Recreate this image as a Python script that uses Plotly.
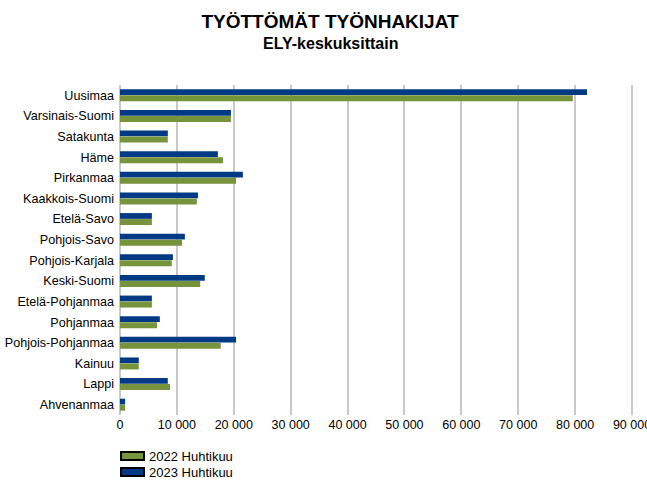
import plotly.graph_objects as go

regions = ['Uusimaa', 'Varsinais-Suomi', 'Satakunta', 'Häme', 'Pirkanmaa',
           'Kaakkois-Suomi', 'Etelä-Savo', 'Pohjois-Savo', 'Pohjois-Karjala',
           'Keski-Suomi', 'Etelä-Pohjanmaa', 'Pohjanmaa', 'Pohjois-Pohjanmaa',
           'Kainuu', 'Lappi', 'Ahvenanmaa']
values_2022 = [79600, 19500, 8400, 18100, 20400, 13500, 5600, 10900, 9100,
               14100, 5600, 6500, 17700, 3300, 8800, 900]
values_2023 = [82100, 19500, 8400, 17200, 21600, 13700, 5600, 11400, 9300,
               14900, 5600, 7000, 20400, 3300, 8400, 900]
tick_vals = [0, 10000, 20000, 30000, 40000, 50000, 60000, 70000, 80000, 90000]
tick_text = ['0', '10 000', '20 000', '30 000', '40 000', '50 000',
             '60 000', '70 000', '80 000', '90 000']

GREEN = '#77933c'
BLUE = '#003a84'
FONT = 'Liberation Sans, Arial, sans-serif'

fig = go.Figure()

# 2023 above, 2022 below within each region
fig.add_trace(go.Bar(
    y=regions, x=values_2023, orientation='h', name='2023 Huhtikuu',
    marker=dict(color=BLUE, line=dict(width=0)),
    offset=-0.29, width=0.28, showlegend=False
))
fig.add_trace(go.Bar(
    y=regions, x=values_2022, orientation='h', name='2022 Huhtikuu',
    marker=dict(color=GREEN, line=dict(width=0)),
    offset=0.0, width=0.29, showlegend=False
))

# plot area 120..634 px wide; range a bit past 90 000 so the last gridline sits at ~632 px
fig.update_layout(
    width=647, height=480,
    margin=dict(l=120, r=13, t=85, b=65),
    paper_bgcolor='white', plot_bgcolor='white',
    barmode='overlay',
    font=dict(family=FONT, size=12, color='#000000'),
    title=dict(text='<b>TYÖTTÖMÄT TYÖNHAKIJAT</b>', x=330 / 647, xref='container',
               xanchor='center', y=1 - 21 / 480, yref='container', yanchor='middle',
               font=dict(family=FONT, size=19, color='#000000')),
    xaxis=dict(range=[0, 90350], tickvals=tick_vals, ticktext=tick_text,
               showgrid=True, gridcolor='#c8c8c8', gridwidth=1.5,
               zeroline=True, zerolinecolor='#c8c8c8', zerolinewidth=1.5,
               showline=False, ticks='', tickfont=dict(size=12.5),
               automargin=False, ticklabeloverflow='allow'),
    yaxis=dict(autorange='reversed', showgrid=False, showline=False,
               ticks='', ticklabelstandoff=5, tickfont=dict(size=12.6),
               automargin=False),
)

W = 647 - 120 - 13

# subtitle
fig.add_annotation(text='<b>ELY-keskuksittain</b>', xref='paper', yref='paper',
                   x=(330 - 120) / W, y=(415 - 44) / 330, xanchor='center',
                   yanchor='middle', showarrow=False,
                   font=dict(family=FONT, size=16, color='#000000'))

# legend drawn by hand: wide swatches with black border
for i, (label, color) in enumerate([('2022 Huhtikuu', GREEN), ('2023 Huhtikuu', BLUE)]):
    top = 452 + i * 16
    fig.add_shape(type='rect', xref='paper', yref='paper',
                  x0=(121 - 120) / W, x1=(144 - 120) / W,
                  y0=(415 - top) / 330, y1=(415 - top - 8) / 330,
                  fillcolor=color, line=dict(color='#000000', width=2))
    fig.add_annotation(text=label, xref='paper', yref='paper',
                       x=(147 - 120) / W, y=(415 - top - 4) / 330,
                       xanchor='left', yanchor='middle', showarrow=False,
                       font=dict(family=FONT, size=13, color='#000000'))

fig.write_html('out.html', config={'displayModeBar': False},
               post_script="document.body.style.margin='0';")
